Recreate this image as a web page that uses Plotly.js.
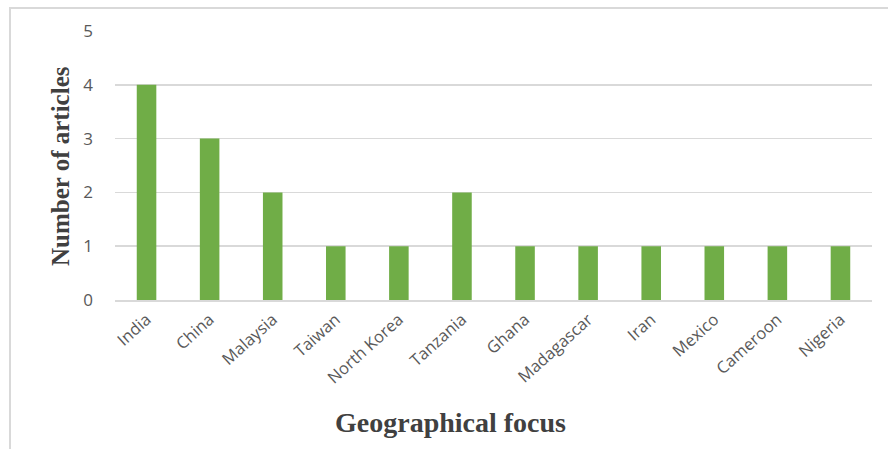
<!DOCTYPE html>
<html>
<head>
<meta charset="utf-8">
<script src="https://cdn.plot.ly/plotly-3.0.1.min.js"></script>
<style>
html,body{margin:0;padding:0;background:#fff;}
#chart{width:888px;height:449px;}
</style>
</head>
<body>
<div id="chart"></div>
<script>
const countries = ["India","China","Malaysia","Taiwan","North Korea","Tanzania","Ghana","Madagascar","Iran","Mexico","Cameroon","Nigeria"];
const articles = [4,3,2,1,1,2,1,1,1,1,1,1];
const yTicks = [0,1,2,3,4,5];
const xTitle = "Geographical focus";
const yTitle = "Number of articles";

const trace = {
  type: "bar",
  x: countries,
  y: articles,
  marker: {color: "#70AD47"},
  hoverinfo: "x+y"
};

const layout = {
  width: 888,
  height: 449,
  margin: {l: 115, r: 16, t: 31, b: 149},
  paper_bgcolor: "#ffffff",
  plot_bgcolor: "#ffffff",
  bargap: 0.69,
  showlegend: false,
  font: {family: "Open Sans, sans-serif", color: "#595959"},
  xaxis: {
    type: "category",
    tickangle: -42,
    tickfont: {size: 16.5, color: "#595959", family: "Open Sans, sans-serif"},
    showgrid: false,
    showline: true,
    linecolor: "#d9d9d9",
    linewidth: 1.5,
    ticks: "",
    ticklabelstandoff: 2
  },
  yaxis: {
    range: [0, 5],
    tickvals: yTicks,
    ticktext: yTicks.map(String),
    tickfont: {size: 17, color: "#595959", family: "Open Sans, sans-serif"},
    showgrid: true,
    gridcolor: "#d9d9d9",
    gridwidth: 1.5,
    zeroline: false,
    showline: false,
    ticks: "",
    ticklen: 0,
    ticklabelstandoff: 21
  },
  annotations: [
    {
      text: "<b>" + xTitle + "</b>",
      xref: "paper", yref: "paper",
      x: (450 - 115) / 757, y: -(422 - 300) / 269,
      xanchor: "center", yanchor: "middle",
      showarrow: false,
      font: {family: "Liberation Serif, serif", size: 28, color: "#404040"}
    },
    {
      text: "<b>" + yTitle + "</b>",
      xref: "paper", yref: "paper",
      x: -(115 - 60) / 757, y: 1 - (166 - 31) / 269,
      xanchor: "center", yanchor: "middle",
      textangle: -90,
      showarrow: false,
      font: {family: "Liberation Serif, serif", size: 25, color: "#404040"}
    }
  ],
  shapes: [{
    type: "rect", xref: "paper", yref: "paper",
    x0: -105/757, x1: 920/757, y0: -200/269, y1: 1 + 23/269,
    line: {color: "#d9d9d9", width: 2},
    fillcolor: "rgba(0,0,0,0)",
    layer: "below"
  }]
};

Plotly.newPlot("chart", [trace], layout, {displayModeBar: false, staticPlot: true});
</script>
</body>
</html>
